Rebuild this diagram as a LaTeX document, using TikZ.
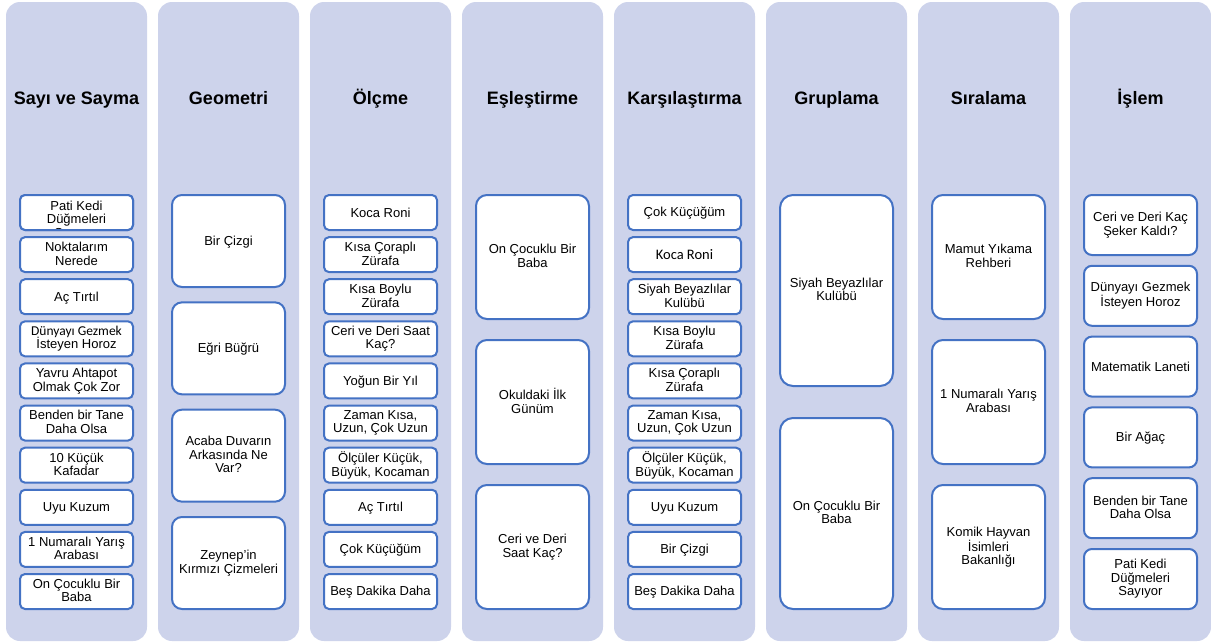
\documentclass[tikz,border=0pt]{standalone}
\usepackage{fontspec}
\setmainfont{Liberation Sans}
\newfontfamily\calfont{Carlito}
\definecolor{lanebg}{RGB}{205,211,235}
\definecolor{cardline}{RGB}{68,114,196}
% line strut: keeps the capitals of every card text centred in its card
\newcommand\cardstrut{\rule[-2.1pt]{0pt}{13.5pt}}
\tikzset{
  lane/.style={fill=lanebg, draw=none, rounded corners=14pt,
    minimum width=141pt, minimum height=639pt, inner sep=0pt},
  lanetitle/.style={font=\fontsize{18}{20}\selectfont\bfseries,
    inner sep=0pt, anchor=base},
  card/.style={draw=cardline, line width=2pt, fill=white,
    minimum width=113pt, inner sep=0pt, align=center,
    font=\fontsize{13}{13.5}\selectfont,
    execute at begin node=\cardstrut, execute at end node=\cardstrut},
}
% one lane of cards: lane index, card height, gap, corner radius, texts
\newcommand\cardstack[5]{%
  \foreach \t [count=\k from 0] in {#5}{%
    \node[card, minimum height=#2pt-2pt, rounded corners=#4pt]
      (card#1-\k) at ({76.5+152*#1}, {194+#2/2+\k*(#2+#3)}) {\t};
  }%
}
\begin{document}
\begin{tikzpicture}[x=1pt,y=-1pt]
\useasboundingbox (0,0) rectangle (1211,643);

% lanes and their headings
\foreach \title [count=\i from 0] in
  {Sayı ve Sayma, Geometri, Ölçme, Eşleştirme, Karşılaştırma,
   Gruplama, Sıralama, İşlem}{
  \node[lane] (lane\i) at (76.5+152*\i, 321.5) {};
  \node[lanetitle] (title\i) at (76.5+152*\i, 104.5) {\title};
}

% Sayı ve Sayma
\cardstack{0}{37}{5.111}{5}{{},
  {Noktalarım\\Nerede}, {Aç Tırtıl},
  {\calfont\fontsize{13.5}{13.5}\selectfont Dünyayı Gezmek\\İsteyen Horoz},
  {Yavru Ahtapot\\Olmak Çok Zor}, {Benden bir Tane\\Daha Olsa},
  {10 Küçük\\Kafadar}, {Uyu Kuzum}, {1 Numaralı Yarış\\Arabası},
  {On Çocuklu Bir\\Baba}}
% first card: its text runs past the bottom edge and is cut off
\node[card, minimum height=35pt, rounded corners=5pt,
  execute at begin node={}, execute at end node={},
  path picture={
    \node[inner sep=0pt, align=center, anchor=north,
      font=\fontsize{13}{13.5}\selectfont] (patitext)
      at ([yshift=-5pt]path picture bounding box.north)
      {Pati Kedi\\Düğmeleri\\Sayıyor};
  }] (card0-0b) at (76.5, 212.5) {};

% Geometri
\cardstack{1}{94}{13.333}{10}{{Bir Çizgi}, {Eğri Büğrü},
  {Acaba Duvarın\\Arkasında Ne\\Var?}, {Zeynep’in\\Kırmızı Çizmeleri}}

% Ölçme
\cardstack{2}{37}{5.111}{5}{{Koca Roni}, {Kısa Çoraplı\\Zürafa},
  {Kısa Boylu\\Zürafa}, {Ceri ve Deri Saat\\Kaç?}, {Yoğun Bir Yıl},
  {Zaman Kısa,\\Uzun, Çok Uzun}, {Ölçüler Küçük,\\Büyük, Kocaman},
  {Aç Tırtıl}, {Çok Küçüğüm}, {Beş Dakika Daha}}

% Eşleştirme
\cardstack{3}{126}{19}{11}{{On Çocuklu Bir\\Baba}, {Okuldaki İlk\\Günüm},
  {Ceri ve Deri\\Saat Kaç?}}

% Karşılaştırma
\cardstack{4}{37}{5.111}{5}{{Çok Küçüğüm},
  {\calfont\fontsize{14.5}{13.5}\selectfont Koca Roni},
  {Siyah Beyazlılar\\Kulübü}, {Kısa Boylu\\Zürafa}, {Kısa Çoraplı\\Zürafa},
  {Zaman Kısa,\\Uzun, Çok Uzun}, {Ölçüler Küçük,\\Büyük, Kocaman},
  {Uyu Kuzum}, {Bir Çizgi}, {Beş Dakika Daha}}

% Gruplama
\cardstack{5}{193}{30}{13}{{Siyah Beyazlılar\\Kulübü}, {On Çocuklu Bir\\Baba}}

% Sıralama
\cardstack{6}{126}{19}{11}{{Mamut Yıkama\\Rehberi}, {1 Numaralı Yarış\\Arabası},
  {Komik Hayvan\\İsimleri\\Bakanlığı}}

% İşlem
\cardstack{7}{62}{8.8}{8}{{Ceri ve Deri Kaç\\Şeker Kaldı?},
  {Dünyayı Gezmek\\İsteyen Horoz}, {Matematik Laneti}, {Bir Ağaç},
  {Benden bir Tane\\Daha Olsa}, {Pati Kedi\\Düğmeleri\\Sayıyor}}
\end{tikzpicture}
\end{document}
